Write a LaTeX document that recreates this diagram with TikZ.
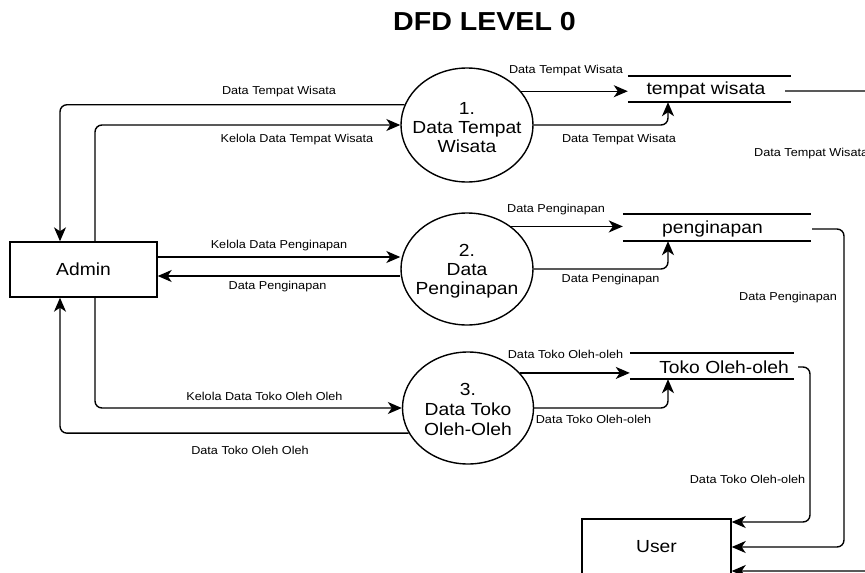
\documentclass[tikz,border=0pt]{standalone}
\usepackage{fontspec}
\setmainfont{Liberation Sans}[FakeStretch=1.1]
\usetikzlibrary{shapes.geometric,arrows.meta}

\begin{document}
\begin{tikzpicture}[x=1pt,y=-1pt,
  flow/.style={draw, line width=1.4pt, rounded corners=7pt,
    -{Stealth[length=14pt,width=12pt,inset=4pt]}},
  lbl/.style={font=\fontsize{11.5}{13}\selectfont, inner sep=0pt},
  entity/.style={draw, line width=1.4pt, minimum width=147pt, minimum height=55pt,
    font=\fontsize{17.5}{19}\selectfont},
  proc/.style={draw, ellipse, line width=1.4pt, inner sep=0pt,
    minimum width=132pt, minimum height=114pt},
  proctext/.style={align=center, inner sep=0pt, font=\fontsize{17.5}{19}\selectfont},
  store/.style={minimum width=#1, minimum height=26pt, inner sep=0pt},
  storeline/.style={line width=1.6pt},
  storetext/.style={font=\fontsize{17.5}{19}\selectfont, inner sep=0pt},
]
\useasboundingbox (0,0) rectangle (865,573);
\fill[white] (0,0) rectangle (865,573);

% title
\node[font=\bfseries\fontsize{26}{28}\selectfont] (title) at (484.5,22) {DFD LEVEL 0};

% external entities
\node[entity] (admin) at (83.5,269.5) {Admin};
\node[entity, minimum width=149pt, minimum height=56pt] (user) at (656.5,547) {User};

% processes: fixed-size ellipses with the caption set on top
\node[proc] (p1) at (467,125) {};
\node[proctext] (p1t) at (467,128) {1.\\Data Tempat\\Wisata};
\node[proc, minimum height=112pt] (p2) at (467,269) {};
\node[proctext] (p2t) at (467,271) {2.\\Data\\Penginapan};
\node[proc, minimum width=131pt, minimum height=112pt] (p3) at (468,408) {};
\node[proctext, font=\fontsize{17.5}{20}\selectfont] (p3t) at (468,409) {3.\\Data Toko\\Oleh-Oleh};

% data stores
\node[store=163pt] (s1) at (709.5,89) {};
\draw[storeline] (s1.north west) -- (s1.north east) (s1.south west) -- (s1.south east);
\node[storetext] (s1t) at (706,90) {tempat wisata};

\node[store=188pt, minimum height=27pt] (s2) at (717,227.5) {};
\draw[storeline] (s2.north west) -- (s2.north east) (s2.south west) -- (s2.south east);
\node[storetext] (s2t) at (712.5,229) {penginapan};

\node[store=164pt] (s3) at (712,366) {};
\draw[storeline] (s3.north west) -- (s3.north east) (s3.south west) -- (s3.south east);
\node[storetext] (s3t) at (724,367.5) {Toko Oleh-oleh};

% Admin <-> processes
\draw[flow] (p1.162) -| ([xshift=-23.5]admin.north);
\draw[flow] ([xshift=11.5]admin.north) |- (p1.west);
\draw[flow] ([yshift=12.5]admin.east) -- ([yshift=12.5]admin.east -| p2.west);
\draw[flow] ([yshift=-6.5]admin.east -| p2.west) -- ([yshift=-6.5]admin.east);
\draw[flow] ([xshift=11.5]admin.south) |- (p3.west);
\draw[flow] (p3.203) -| ([xshift=-23.5]admin.south);

% processes -> data stores
\draw[flow] (p1.32) -- (p1.32 -| s1.west);
\draw[flow] (p1.east) -| ([xshift=-41.5]s1.south);
\draw[flow] (p2.44) -- (p2.44 -| s2.west);
\draw[flow] (p2.east) -| ([xshift=-49]s2.south);
\draw[flow] (p3.34) -- (p3.34 -| s3.west);
\draw[flow] (p3.east) -| ([xshift=-44]s3.south);

% data stores -> User
\coordinate (s1out) at (785,91);
\coordinate (s2out) at (812,229);
\coordinate (s3out) at (798,367);
\draw[flow] (s3out) -- ++(12,0) |- ([yshift=25]user.east);
\draw[flow] (s2out) -- ++(32,0) |- (user.east);
\draw[flow] (s1out) -- (885,91) |- ([yshift=-24]user.east);

% flow labels
\node[lbl] (l1) at (279,92) {Data Tempat Wisata};
\node[lbl] (l2) at (297,140) {Kelola Data Tempat Wisata};
\node[lbl] (l3) at (279,246) {Kelola Data Penginapan};
\node[lbl] (l4) at (277.5,287) {Data Penginapan};
\node[lbl] (l5) at (264.5,396) {Kelola Data Toko Oleh Oleh};
\node[lbl] (l6) at (250,450) {Data Toko Oleh Oleh};
\node[lbl] (l7) at (566,71) {Data Tempat Wisata};
\node[lbl] (l8) at (619,140) {Data Tempat Wisata};
\node[lbl, anchor=west] (l9) at (754,154) {Data Tempat Wisata};
\node[lbl] (l10) at (556,210) {Data Penginapan};
\node[lbl] (l11) at (610.5,280) {Data Penginapan};
\node[lbl] (l12) at (788,298) {Data Penginapan};
\node[lbl] (l13) at (565.5,354) {Data Toko Oleh-oleh};
\node[lbl] (l14) at (593.5,419) {Data Toko Oleh-oleh};
\node[lbl] (l15) at (747.5,479) {Data Toko Oleh-oleh};
\end{tikzpicture}
\end{document}
